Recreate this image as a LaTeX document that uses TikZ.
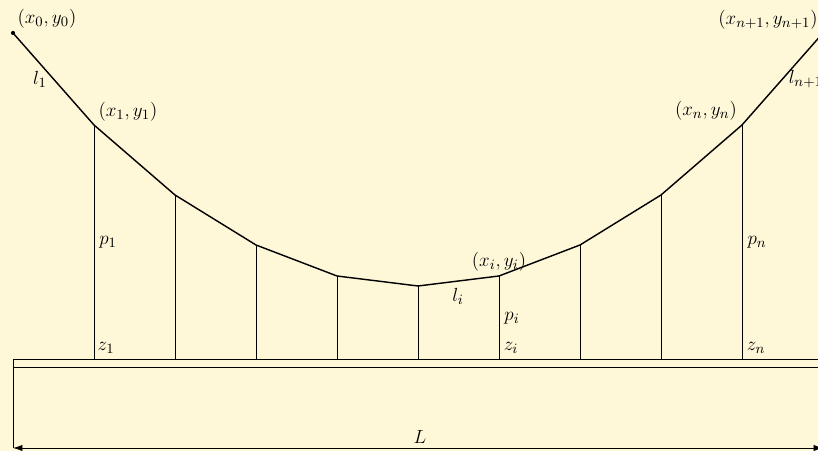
\documentclass[tikz,border=0pt]{standalone}
\usetikzlibrary{arrows.meta}
\definecolor{bgc}{RGB}{254,247,216}
\begin{document}
\begin{tikzpicture}[x=0.0222cm,y=-0.0222cm,
  cable/.style={line width=0.9pt},
  thin line/.style={line width=0.5pt},
  lbl/.style={inner sep=1pt,font=\fontsize{12.4}{15}\selectfont}]
\fill[bgc] (0,0) rectangle (818,451);
\useasboundingbox (0,0) rectangle (818,451);
% curve points
\coordinate (P0) at (13,33);
\coordinate (P1) at (94,125);
\coordinate (P2) at (175,195);
\coordinate (P3) at (256,245);
\coordinate (P4) at (337,276);
\coordinate (P5) at (418,286);
\coordinate (P6) at (499,276);
\coordinate (P7) at (580,245);
\coordinate (P8) at (661,195);
\coordinate (P9) at (742,125);
\coordinate (P10) at (823,33);
% ground
\coordinate (G0) at (13,359);
\coordinate (G1) at (94,359);
\coordinate (G2) at (175,359);
\coordinate (G3) at (256,359);
\coordinate (G4) at (337,359);
\coordinate (G5) at (418,359);
\coordinate (G6) at (499,359);
\coordinate (G7) at (580,359);
\coordinate (G8) at (661,359);
\coordinate (G9) at (742,359);
\coordinate (G10) at (823,359);
\draw[thin line] (13,448) -- (G0) -- (G10);
\draw[thin line] (13,367) -- (823,367);
\foreach \i in {1,...,9} \draw[thin line] (P\i) -- (G\i);
\draw[cable] (P0) -- (P1) -- (P2) -- (P3) -- (P4) -- (P5) -- (P6) -- (P7) -- (P8) -- (P9) -- (P10);
\fill (P0) circle (1.3pt);
\coordinate (A) at (13,448);
\coordinate (B) at (823,448);
\draw[thin line,{Latex[length=6pt,width=4pt]}-{Latex[length=6pt,width=4pt]}] (A) -- (B);
% labels
\node[lbl] (t0) at (47,19) {$(x_0,y_0)$};
\node[lbl] (t1) at (128,112) {$(x_1,y_1)$};
\node[lbl] (l1) at (40,79) {$l_1$};
\node[lbl] (tn1) at (768,20) {$(x_{n+1},y_{n+1})$};
\node[lbl] (tn) at (706,111) {$(x_n,y_n)$};
\node[lbl,anchor=west] (ln1) at (787,79) {$l_{n+1}$};
\node[lbl] (p1) at (108,242) {$p_1$};
\node[lbl] (pn) at (757,242) {$p_n$};
\node[lbl] (ti) at (499,262) {$(x_i,y_i)$};
\node[lbl] (li) at (458,296) {$l_i$};
\node[lbl] (pi) at (512,318) {$p_i$};
\node[lbl] (z1) at (106,348) {$z_1$};
\node[lbl] (zi) at (511,348) {$z_i$};
\node[lbl] (zn) at (756,348) {$z_n$};
\node[lbl] (L) at (420,437) {$L$};
\end{tikzpicture}
\end{document}
